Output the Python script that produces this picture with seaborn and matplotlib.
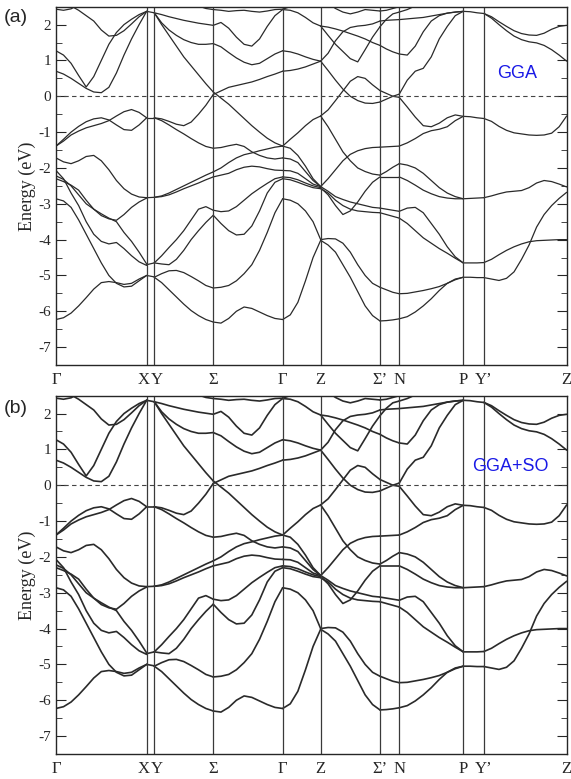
import numpy as np
import pandas as pd
import matplotlib
matplotlib.use("Agg")
import matplotlib.pyplot as plt
import matplotlib.transforms as mtransforms
import seaborn as sns
from matplotlib.ticker import MultipleLocator

# k-path (arbitrary length units) and labels
kpath = [0, 90.7, 98.3, 157.3, 226.7, 264.7, 324.0, 343.3, 407.3, 428.0, 510.7]
klabels = ["Γ", "X", "Y", "Σ", "Γ", "Z", "Σ’", "N", "P", "Y’", "Z"]

# band energies (eV), evenly spaced in k between the two ends of each segment
seg_GX = [
    [2.43, 2.40, 2.44, 2.56, 2.70, 2.80, 2.80, 2.80, 2.80, 2.80, 2.80, 2.80, 2.80],
    [2.70, 2.62, 2.52, 2.40, 2.25, 2.10, 1.85, 1.68, 1.70, 1.83, 2.02, 2.22, 2.37],
    [1.27, 1.15, 0.92, 0.58, 0.26, 0.55, 1.00, 1.45, 1.78, 2.00, 2.15, 2.28, 2.37],
    [0.70, 0.62, 0.50, 0.36, 0.22, 0.12, 0.10, 0.25, 0.65, 1.15, 1.60, 2.00, 2.37],
    [-1.39, -1.20, -1.00, -0.84, -0.71, -0.63, -0.60, -0.66, -0.80, -0.93, -0.95, -0.80, -0.60],
    [-1.39, -1.25, -1.08, -0.97, -0.88, -0.82, -0.76, -0.68, -0.55, -0.43, -0.37, -0.45, -0.60],
    [-1.72, -1.83, -1.88, -1.80, -1.68, -1.65, -1.80, -2.05, -2.35, -2.58, -2.73, -2.81, -2.83],
    [-2.07, -2.30, -2.70, -3.05, -3.50, -3.85, -4.05, -4.12, -4.08, -4.25, -4.45, -4.62, -4.72],
    [-2.22, -2.32, -2.50, -2.75, -3.00, -3.15, -3.33, -3.42, -3.46, -3.30, -3.10, -2.95, -2.84],
    [-2.30, -2.38, -2.48, -2.62, -2.90, -3.15, -3.28, -3.40, -3.50, -3.80, -4.05, -4.35, -4.68],
    [-2.86, -2.92, -3.10, -3.45, -3.85, -4.25, -4.65, -5.00, -5.22, -5.32, -5.30, -5.15, -5.00],
    [-6.23, -6.18, -6.05, -5.85, -5.62, -5.38, -5.20, -5.17, -5.20, -5.25, -5.22, -5.10, -5.00],
]
seg_XY = [[2.37, 2.33], [-0.60, -0.60], [-2.83, -2.82], [-4.70, -4.65], [-5.00, -5.04]]
seg_YS = [
    [2.80, 2.80, 2.80, 2.78, 2.72, 2.62, 2.52, 2.45, 2.42],
    [2.33, 2.28, 2.22, 2.17, 2.12, 2.08, 2.04, 2.01, 1.98],
    [2.33, 2.05, 1.85, 1.70, 1.58, 1.50, 1.45, 1.45, 1.47],
    [2.33, 2.00, 1.70, 1.40, 1.10, 0.85, 0.60, 0.35, 0.12],
    [-0.60, -0.63, -0.70, -0.78, -0.82, -0.72, -0.50, -0.25, 0.05],
    [-0.60, -0.68, -0.80, -0.93, -1.05, -1.18, -1.30, -1.40, -1.45],
    [-2.82, -2.78, -2.70, -2.60, -2.50, -2.40, -2.30, -2.20, -2.11],
    [-2.82, -2.80, -2.75, -2.67, -2.58, -2.50, -2.42, -2.33, -2.25],
    [-4.65, -4.45, -4.22, -4.00, -3.75, -3.45, -3.15, -3.08, -3.18],
    [-4.65, -4.68, -4.70, -4.55, -4.30, -4.00, -3.75, -3.52, -3.32],
    [-5.05, -4.95, -4.87, -4.86, -4.92, -5.03, -5.15, -5.28, -5.35],
    [-5.05, -5.20, -5.40, -5.60, -5.80, -5.98, -6.12, -6.23, -6.30],
]
seg_SG = [
    [2.42, 2.40, 2.37, 2.39, 2.40, 2.37, 2.35, 2.38, 2.42, 2.43],
    [1.98, 2.06, 1.90, 1.65, 1.45, 1.40, 1.60, 1.95, 2.25, 2.42],
    [1.47, 1.38, 1.22, 1.07, 0.95, 0.88, 0.92, 1.05, 1.18, 1.27],
    [0.05, 0.15, 0.25, 0.30, 0.35, 0.40, 0.47, 0.55, 0.62, 0.70],
    [0.12, -0.05, -0.22, -0.42, -0.62, -0.82, -1.00, -1.17, -1.30, -1.39],
    [-1.45, -1.43, -1.38, -1.34, -1.40, -1.55, -1.65, -1.72, -1.75, -1.72],
    [-2.11, -2.00, -1.85, -1.72, -1.63, -1.58, -1.52, -1.47, -1.42, -1.39],
    [-2.25, -2.20, -2.15, -2.05, -1.98, -1.95, -1.97, -2.02, -2.06, -2.07],
    [-3.18, -3.22, -3.20, -3.08, -2.90, -2.72, -2.57, -2.43, -2.30, -2.25],
    [-3.32, -3.55, -3.75, -3.87, -3.85, -3.62, -3.20, -2.70, -2.40, -2.30],
    [-5.35, -5.33, -5.28, -5.15, -4.95, -4.70, -4.30, -3.80, -3.25, -2.86],
    [-6.30, -6.33, -6.20, -6.00, -5.88, -5.92, -6.02, -6.12, -6.20, -6.23],
]
seg_GZ = [
    [2.42, 2.40, 2.33, 2.20, 2.05, 1.96],
    [2.43, 2.50, 2.60, 2.70, 2.75, 2.80],
    [1.27, 1.24, 1.18, 1.10, 1.03, 0.98],
    [0.70, 0.72, 0.76, 0.82, 0.90, 0.98],
    [-1.39, -1.20, -1.02, -0.82, -0.65, -0.55],
    [-1.39, -1.45, -1.65, -1.95, -2.30, -2.52],
    [-1.72, -1.75, -1.85, -2.10, -2.35, -2.52],
    [-2.07, -2.08, -2.15, -2.30, -2.45, -2.52],
    [-2.25, -2.27, -2.33, -2.42, -2.50, -2.55],
    [-2.30, -2.33, -2.40, -2.48, -2.55, -2.58],
    [-2.86, -2.90, -3.00, -3.20, -3.50, -4.00],
    [-6.23, -6.10, -5.75, -5.15, -4.50, -4.02],
]
seg_ZS = [
    [2.80, 2.60, 2.45, 2.35, 2.30, 2.35, 2.42, 2.40, 2.38],
    [1.96, 1.70, 1.45, 1.25, 1.05, 0.96, 1.30, 1.65, 1.94],
    [1.96, 1.93, 1.88, 1.82, 1.75, 1.68, 1.60, 1.50, 1.42],
    [0.98, 1.20, 1.55, 1.80, 1.92, 1.96, 1.98, 2.02, 2.10],
    [0.98, 0.72, 0.45, 0.20, 0.00, -0.12, -0.19, -0.20, -0.16],
    [-0.55, -0.38, -0.12, 0.15, 0.42, 0.55, 0.50, 0.32, 0.16],
    [-0.55, -0.85, -1.20, -1.55, -1.80, -2.00, -2.10, -2.17, -2.20],
    [-2.52, -2.30, -2.05, -1.80, -1.62, -1.52, -1.46, -1.43, -1.42],
    [-2.52, -2.65, -2.80, -2.88, -2.95, -3.00, -3.05, -3.10, -3.12],
    [-2.55, -2.75, -3.05, -3.30, -3.20, -2.95, -2.65, -2.40, -2.25],
    [-2.58, -2.70, -2.90, -3.05, -3.15, -3.20, -3.22, -3.24, -3.25],
    [-4.00, -3.97, -3.98, -4.10, -4.35, -4.70, -5.00, -5.22, -5.33],
    [-4.02, -4.15, -4.35, -4.70, -5.05, -5.45, -5.85, -6.12, -6.27],
]
seg_SN = [
    [2.38, 2.40, 2.45, 2.50],
    [1.94, 2.15, 2.30, 2.35],
    [1.42, 1.32, 1.24, 1.18],
    [2.10, 2.12, 2.13, 2.14],
    [-0.16, -0.08, 0.00, 0.06],
    [0.16, 0.08, 0.00, -0.03],
    [-1.42, -1.41, -1.40, -1.39],
    [-2.20, -2.10, -1.98, -1.88],
    [-2.25, -2.25, -2.25, -2.25],
    [-3.12, -3.15, -3.18, -3.21],
    [-3.25, -3.30, -3.35, -3.40],
    [-5.33, -5.40, -5.47, -5.51],
    [-6.27, -6.26, -6.24, -6.21],
]
seg_NP = [
    [2.14, 2.16, 2.18, 2.20, 2.24, 2.28, 2.32, 2.35, 2.37],
    [2.35, 2.42, 2.52, 2.62, 2.72, 2.80, 2.80, 2.80, 2.80],
    [1.18, 1.15, 1.40, 1.80, 2.10, 2.25, 2.32, 2.35, 2.37],
    [0.06, 0.45, 0.70, 0.78, 1.10, 1.60, 1.95, 2.25, 2.37],
    [-0.03, -0.30, -0.58, -0.82, -0.85, -0.75, -0.60, -0.52, -0.56],
    [-1.39, -1.30, -1.18, -1.04, -0.96, -0.92, -0.85, -0.68, -0.56],
    [-1.88, -1.92, -2.00, -2.15, -2.35, -2.55, -2.70, -2.80, -2.86],
    [-2.25, -2.35, -2.48, -2.62, -2.72, -2.80, -2.84, -2.86, -2.86],
    [-3.21, -3.12, -3.10, -3.25, -3.55, -3.85, -4.20, -4.48, -4.65],
    [-3.40, -3.55, -3.75, -3.95, -4.10, -4.25, -4.38, -4.52, -4.65],
    [-5.51, -5.50, -5.46, -5.42, -5.37, -5.31, -5.22, -5.12, -5.05],
    [-6.21, -6.15, -6.02, -5.85, -5.65, -5.42, -5.22, -5.10, -5.05],
]
seg_PY = [
    [2.37, 2.36, 2.33, 2.31],
    [-0.56, -0.57, -0.60, -0.62],
    [-2.86, -2.85, -2.84, -2.83],
    [-4.65, -4.65, -4.65, -4.64],
    [-5.05, -5.05, -5.06, -5.06],
]
seg_YZ = [
    [2.31, 2.22, 2.08, 1.95, 1.83, 1.75, 1.71, 1.70, 1.76, 1.87, 1.95, 1.98],
    [2.31, 2.18, 2.00, 1.83, 1.68, 1.58, 1.52, 1.49, 1.42, 1.30, 1.15, 0.98],
    [-0.62, -0.70, -0.84, -0.95, -1.02, -1.05, -1.08, -1.09, -1.08, -1.03, -0.85, -0.55],
    [-2.83, -2.78, -2.72, -2.67, -2.65, -2.63, -2.55, -2.42, -2.35, -2.38, -2.45, -2.53],
    [-4.64, -4.55, -4.42, -4.30, -4.20, -4.12, -4.06, -4.03, -4.02, -4.01, -4.00, -4.00],
    [-5.06, -5.10, -5.14, -5.08, -4.90, -4.55, -4.15, -3.65, -3.30, -3.05, -2.85, -2.68],
]

segments = [seg_GX, seg_XY, seg_YS, seg_SG, seg_GZ, seg_ZS, seg_SN, seg_NP, seg_PY, seg_YZ]

rows = []
uid = 0
for i, seg in enumerate(segments):
    for band in seg:
        k = np.linspace(kpath[i], kpath[i + 1], len(band))
        for kk, e in zip(k, band):
            rows.append((uid, kk, e))
        uid += 1
df = pd.DataFrame(rows, columns=["band", "k", "E"])

sns.set_style("ticks")
plt.rcParams["font.family"] = ["Liberation Serif", "DejaVu Serif"]
plt.rcParams["axes.unicode_minus"] = False

fig = plt.figure(figsize=(5.71, 7.79), dpi=100)
ax1 = fig.add_axes([0.098, 0.5314, 0.8944, 0.46])
ax2 = fig.add_axes([0.098, 0.0321, 0.8944, 0.46])

for ax, lw, name, nk, ny in [(ax1, 0.9, "GGA", 461, 0.64), (ax2, 1.2, "GGA+SO", 454, 0.53)]:
    sns.lineplot(data=df, x="k", y="E", units="band", estimator=None, sort=False,
                 color="#2a2a2a", lw=lw, ax=ax, legend=False)
    for kv in kpath[1:-1]:
        ax.axvline(kv, color="#3a3a3a", lw=0.9)
    ax.axhline(0, color="#444444", lw=0.8, ls=(0, (4, 3)))
    ax.set_xlim(kpath[0], kpath[-1])
    ax.set_ylim(-7.5, 2.5)
    ax.set_xticks(kpath)
    ax.set_xticklabels(klabels, fontsize=12)
    ax.tick_params(axis="x", length=0, pad=5)
    # nudge the close X / Y labels apart
    tl = ax.get_xticklabels()
    tl[1].set_transform(tl[1].get_transform() + mtransforms.ScaledTranslation(-0.035, 0, fig.dpi_scale_trans))
    tl[2].set_transform(tl[2].get_transform() + mtransforms.ScaledTranslation(0.03, 0, fig.dpi_scale_trans))
    ax.set_yticks(range(-7, 3))
    ax.yaxis.set_minor_locator(MultipleLocator(0.5))
    ax.tick_params(axis="y", which="both", direction="in", left=True, right=True, labelsize=11)
    ax.tick_params(axis="y", which="major", length=7)
    ax.tick_params(axis="y", which="minor", length=4)
    ax.set_xlabel("")
    ax.set_ylabel("Energy (eV)", fontsize=13, labelpad=2)
    for s in ax.spines.values():
        s.set_linewidth(1.0)
    ax.text(nk, ny, name, color="#1a1ae6", fontsize=13,
            family="Liberation Sans", ha="center", va="center")

fig.text(0.006, 0.977, "(a)", fontsize=14, family="Liberation Sans", va="center")
fig.text(0.006, 0.476, "(b)", fontsize=14, family="Liberation Sans", va="center")

fig.savefig("out.png", dpi=100)
